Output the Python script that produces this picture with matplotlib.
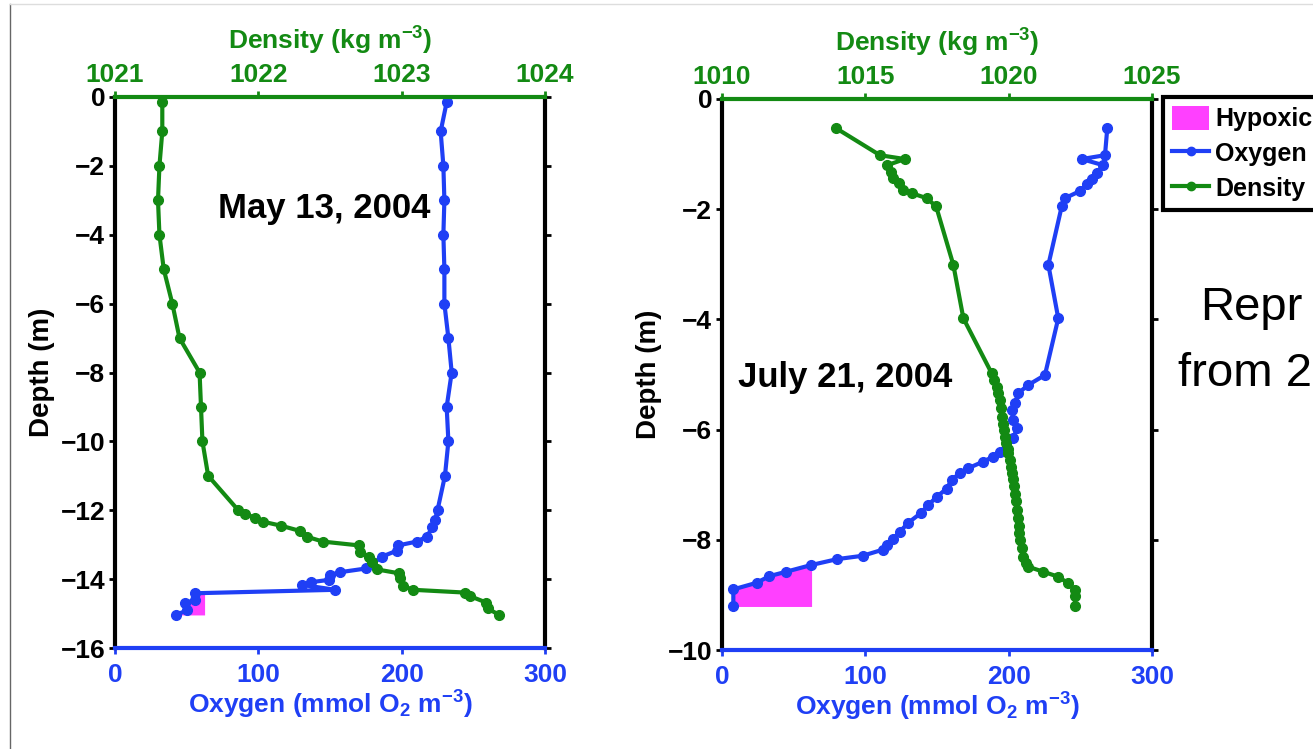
import matplotlib
matplotlib.use("Agg")
import matplotlib.pyplot as plt
import numpy as np
from matplotlib.lines import Line2D
from matplotlib.patches import Patch

plt.rcParams['mathtext.default'] = 'regular'

SANS = ['Liberation Sans', 'DejaVu Sans']

BLUE = '#1f3ff5'
GREEN = '#138a13'
MAGENTA = '#ff40ff'

HYPOXIC_LIMIT = 62.5  # mmol O2 m^-3

# ---------------- May 13, 2004 ----------------
may_rho_depth = [-0.15, -1.0, -2.0, -3.0, -4.0, -5.0, -6.0, -7.0, -8.0, -9.0, -10.0, -11.0,
                 -12.0, -12.1, -12.23, -12.33, -12.45, -12.6, -12.77, -12.91, -13.02, -13.2,
                 -13.35, -13.49, -13.72, -13.83, -13.98, -14.2, -14.31, -14.39, -14.5, -14.68,
                 -14.85, -15.04]
may_rho = [1021.33, 1021.33, 1021.31, 1021.30, 1021.31, 1021.34, 1021.40, 1021.45, 1021.59,
           1021.60, 1021.61, 1021.65, 1021.86, 1021.91, 1021.98, 1022.03, 1022.16, 1022.29,
           1022.34, 1022.45, 1022.70, 1022.71, 1022.77, 1022.79, 1022.83, 1022.98, 1022.99,
           1023.01, 1023.08, 1023.44, 1023.48, 1023.59, 1023.60, 1023.68]

may_oxy_depth = [-0.15, -1.0, -2.0, -3.0, -4.0, -5.0, -6.0, -7.0, -8.0, -9.0, -10.0, -11.0,
                 -12.0, -12.28, -12.5, -12.77, -12.91, -13.02, -13.17, -13.35, -13.69, -13.8,
                 -13.88, -14.02, -14.09, -14.17, -14.31, -14.41, -14.6, -14.7, -14.9, -15.04]
may_oxy = [231.4, 227.2, 229.1, 229.8, 229.1, 229.8, 229.8, 232.6, 234.9, 231.4, 232.6, 230.2,
           225.0, 223.3, 221.5, 217.4, 210.5, 197.7, 196.8, 186.1, 175.3, 156.8,
           150.0, 149.6, 136.5, 130.8, 153.8, 55.8, 55.8, 48.8, 50.5, 42.6]

# ---------------- July 21, 2004 ----------------
jul_oxy_depth = [-0.53, -1.02, -1.09, -1.2, -1.34, -1.46, -1.55, -1.67, -1.8, -1.95, -3.01,
                 -3.98, -5.01, -5.19, -5.34, -5.52, -5.64, -5.83, -5.98, -6.16, -6.4, -6.49,
                 -6.58, -6.7, -6.79, -6.91, -7.07, -7.22, -7.37, -7.52, -7.69, -7.85, -7.99,
                 -8.09, -8.18, -8.29, -8.35, -8.46, -8.58, -8.66, -8.78, -8.9, -9.21]
jul_oxy = [268.8, 267.2, 251.0, 265.8, 261.4, 257.9, 254.4, 249.8, 239.3, 237.0, 227.7,
           234.6, 225.3, 213.7, 206.7, 204.4, 202.1, 203.3, 205.6, 203.3, 193.9, 189.3,
           182.3, 171.9, 166.0, 160.3, 156.8, 149.8, 143.9, 138.5, 130.0, 124.2, 119.1,
           114.9, 112.1, 98.1, 80.5, 61.9, 44.7, 33.0, 24.2, 7.9, 7.9]

jul_rho_depth = [-0.53, -1.02, -1.09, -1.2, -1.32, -1.44, -1.53, -1.65, -1.71, -1.8, -1.95,
                 -3.01, -3.98, -4.98, -5.1, -5.22, -5.34, -5.46, -5.6, -5.77, -5.9, -6.0,
                 -6.13, -6.25, -6.35, -6.43, -6.55, -6.67, -6.79, -6.9, -7.03, -7.16, -7.3,
                 -7.46, -7.6, -7.75, -7.88, -8.0, -8.15, -8.31, -8.42, -8.49, -8.58, -8.67,
                 -8.79, -8.91, -9.02, -9.2]
jul_rho = [1013.98, 1015.51, 1016.38, 1015.77, 1015.88, 1015.98, 1016.19, 1016.33, 1016.62,
           1017.14, 1017.47, 1018.07, 1018.42, 1019.41, 1019.50, 1019.58, 1019.64, 1019.70,
           1019.73, 1019.76, 1019.81, 1019.84, 1019.87, 1019.92, 1019.96, 1019.99, 1020.03,
           1020.07, 1020.10, 1020.14, 1020.18, 1020.22, 1020.26, 1020.30, 1020.33, 1020.35,
           1020.37, 1020.40, 1020.45, 1020.51, 1020.60, 1020.69, 1021.21, 1021.73, 1022.08,
           1022.31, 1022.33, 1022.31]

oxy_ticks = [0, 100, 200, 300]
may_depth_ticks = [0, -2, -4, -6, -8, -10, -12, -14, -16]
jul_depth_ticks = [0, -2, -4, -6, -8, -10]
may_rho_ticks = [1021, 1022, 1023, 1024]
jul_rho_ticks = [1010, 1015, 1020, 1025]

W, H = 1313, 749
fig = plt.figure(figsize=(W / 100, H / 100), dpi=100)

# slide border lines
fig.add_artist(Line2D([10 / W, 10 / W], [0, 1 - 4 / H], color='#666666', lw=1))
fig.add_artist(Line2D([10 / W, 1], [1 - 4 / H, 1 - 4 / H], color='#dddddd', lw=1))

TICK_FS = 19
XLAB_FS = 19
YLAB_FS = 20


def panel(left_px, top_px, oxy, oxy_d, rho, rho_d, dticks, rticks, date, date_xy):
    w_px, h_px = 430, 551
    ax = fig.add_axes([left_px / W, 1 - (top_px + h_px) / H, w_px / W, h_px / H])
    o = np.array(oxy)
    d = np.array(oxy_d)
    ax.fill_betweenx(d, o, HYPOXIC_LIMIT, where=o <= HYPOXIC_LIMIT, interpolate=True,
                     color=MAGENTA, lw=0, zorder=1)
    ax.plot(oxy, oxy_d, '-o', color=BLUE, lw=3, ms=7, zorder=3, clip_on=False)
    ax.set_xlim(oxy_ticks[0], oxy_ticks[-1])
    ax.set_xticks(oxy_ticks)
    ax.set_ylim(dticks[-1], dticks[0])
    ax.set_yticks(dticks)
    ax.set_yticklabels([str(t).replace('-', '\u2212') for t in dticks])

    ax2 = ax.twiny()
    ax2.plot(rho, rho_d, '-o', color=GREEN, lw=3, ms=7, zorder=3, clip_on=False)
    ax2.set_xlim(rticks[0], rticks[-1])
    ax2.set_xticks(rticks)

    for a in (ax, ax2):
        for s in a.spines.values():
            s.set_linewidth(3)
    ax.spines['left'].set_color('black')
    ax.spines['right'].set_color('black')
    ax.spines['bottom'].set_color(BLUE)
    ax.spines['top'].set_visible(False)
    ax2.spines['top'].set_color(GREEN)
    for s in ('left', 'right', 'bottom'):
        ax2.spines[s].set_visible(False)

    ax.tick_params(axis='x', colors=BLUE, direction='out', length=4, width=2, pad=7,
                   labelsize=TICK_FS)
    ax.tick_params(axis='y', colors='black', direction='out', length=4, width=2, pad=3,
                   labelsize=TICK_FS, right=True, left=True)
    ax2.tick_params(axis='x', colors=GREEN, direction='out', length=4, width=2, pad=3,
                    labelsize=TICK_FS)
    for lab in ax.get_xticklabels() + ax.get_yticklabels() + ax2.get_xticklabels():
        lab.set_family(SANS)
        lab.set_fontweight('bold')

    ax.set_xlabel('Oxygen (mmol O$_2$ m$^{-3}$)', color=BLUE, fontsize=XLAB_FS,
                  family=SANS, fontweight='bold', labelpad=1)
    ax2.set_xlabel('Density (kg m$^{-3}$)', color=GREEN, fontsize=XLAB_FS,
                   family=SANS, fontweight='bold', labelpad=10)
    ax.set_ylabel('Depth (m)', color='black', fontsize=YLAB_FS, family=SANS,
                  fontweight='bold')
    ax.yaxis.set_label_coords(-0.14, 0.5)

    fig.text(date_xy[0] / W, 1 - date_xy[1] / H, date, fontsize=25, family=SANS,
             fontweight='bold', va='baseline', ha='left')
    return ax, ax2


panel(115, 97, may_oxy, may_oxy_depth, may_rho, may_rho_depth, may_depth_ticks,
      may_rho_ticks, 'May 13, 2004', (218, 218))
panel(722, 99, jul_oxy, jul_oxy_depth, jul_rho, jul_rho_depth, jul_depth_ticks,
      jul_rho_ticks, 'July 21, 2004', (738, 387))

handles = [Patch(facecolor=MAGENTA, edgecolor='none', label='Hypoxic'),
           Line2D([], [], color=BLUE, lw=3, marker='o', ms=6, label='Oxygen'),
           Line2D([], [], color=GREEN, lw=3, marker='o', ms=6, label='Density')]
leg = fig.legend(handles=handles, loc='upper left', bbox_to_anchor=(1163 / W, 1 - 97 / H),
                 prop=dict(family=SANS, weight='bold', size=18), frameon=True,
                 fancybox=False, edgecolor='black', framealpha=1, borderpad=0.35,
                 handlelength=1.5, handleheight=1.1, handletextpad=0.25, labelspacing=0.37,
                 borderaxespad=0)
leg.get_frame().set_linewidth(3)

fig.text(1200 / W, 1 - 320 / H, 'Repr', fontsize=34, family=SANS, va='baseline', ha='left')
fig.text(1178 / W, 1 - 386 / H, 'from 2', fontsize=34, family=SANS, va='baseline', ha='left')

fig.savefig('out.png', dpi=100)
